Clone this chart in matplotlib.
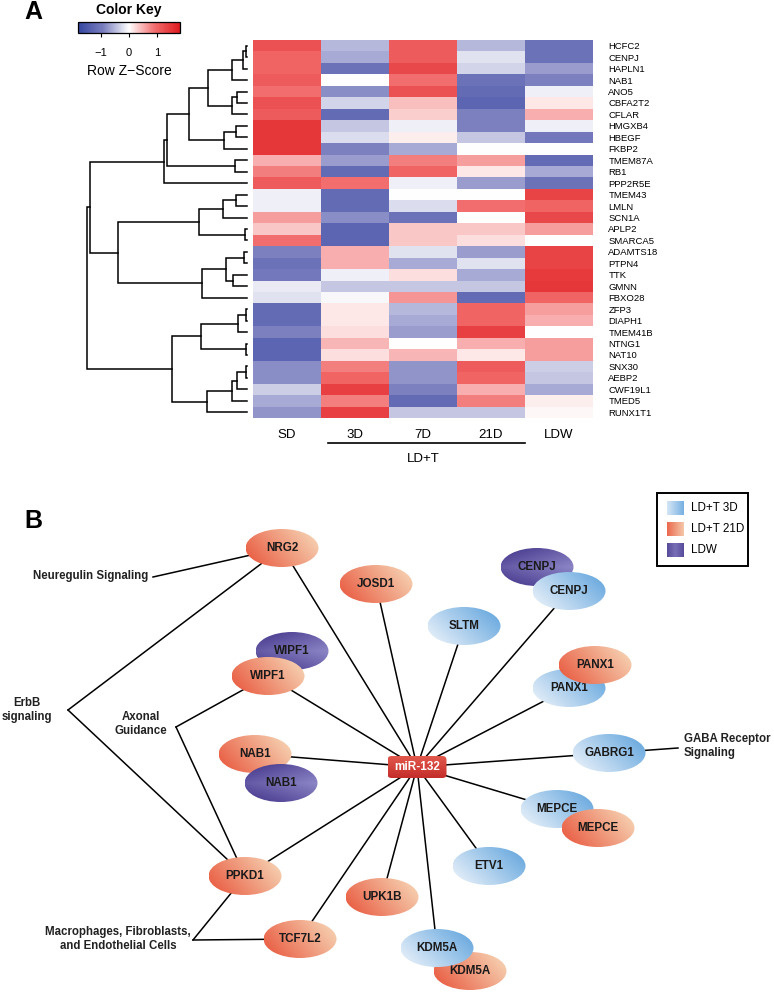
import numpy as np
import matplotlib
matplotlib.use('Agg')
import matplotlib.pyplot as plt
from matplotlib.colors import LinearSegmentedColormap, Normalize, to_rgb
from matplotlib.patches import Ellipse, FancyBboxPatch, Rectangle
from matplotlib.cm import ScalarMappable

plt.rcParams['font.family'] = ['Liberation Sans', 'DejaVu Sans']

# ---- panel A data: row z-scores per condition ----
genes = ['HCFC2', 'CENPJ', 'HAPLN1', 'NAB1', 'ANO5', 'CBFA2T2', 'CFLAR', 'HMGXB4',
         'HBEGF', 'FKBP2', 'TMEM87A', 'RB1', 'PPP2R5E', 'TMEM43', 'LMLN', 'SCN1A',
         'APLP2', 'SMARCA5', 'ADAMTS18', 'PTPN4', 'TTK', 'GMNN', 'FBXO28', 'ZFP3',
         'DIAPH1', 'TMEM41B', 'NTNG1', 'NAT10', 'SNX30', 'AEBP2', 'CWF19L1', 'TMED5',
         'RUNX1T1']
conditions = ['SD', '3D', '7D', '21D', 'LDW']
z_sd = [1.2, 1.0, 1.0, 1.1, 0.9, 1.2, 1.1, 1.5, 1.5, 1.5, 0.5, 0.8, 1.1, -0.1, -0.1, 0.6, 0.35,
        0.9, -0.9, -1.1, -1.0, -0.15, -0.2, -1.2, -1.2, -0.9, -1.3, -1.3, -0.8, -0.8, -0.35, -0.6, -0.75]
z_3d = [-0.5, -0.6, -1.1, 0.0, -0.8, -0.3, -1.2, -0.4, -0.25, -0.9, -0.7, -1.2, 0.9, -1.2, -1.2, -0.8, -1.3,
        -1.3, 0.5, 0.5, -0.1, -0.4, -0.05, 0.15, 0.15, 0.2, 0.45, 0.2, 0.8, 1.0, 1.4, 0.8, 1.4]
z_7d = [1.1, 1.1, 1.3, 0.9, 1.2, 0.4, 0.3, -0.1, 0.1, -0.6, 0.8, 1.0, -0.1, 0.0, -0.25, -1.1, 0.35,
        0.35, -0.2, -0.6, 0.2, -0.4, 0.65, -0.5, -0.6, -0.7, 0.0, 0.45, -0.75, -0.75, -0.9, -1.2, -0.4]
z_21d = [-0.5, -0.2, -0.3, -1.1, -1.2, -1.3, -0.9, -0.9, -0.4, 0.0, 0.6, 0.15, -0.7, 0.0, 0.9, 0.0, 0.35,
         0.2, -0.7, -0.2, -0.6, -0.4, -1.2, 1.0, 1.0, 1.4, 0.5, 0.15, 1.1, 1.0, 0.5, 0.8, -0.4]
z_ldw = [-1.1, -1.1, -0.7, -0.9, -0.1, 0.15, 0.5, -0.1, -1.0, 0.0, -1.2, -0.6, -1.1, 1.35, 1.0, 1.3, 0.6,
         0.0, 1.35, 1.35, 1.45, 1.5, 1.0, 0.6, 0.5, 0.0, 0.6, 0.6, -0.35, -0.4, -0.6, 0.1, 0.05]

# row dendrogram: (child a, child b, height); ids >= 33 are earlier merges
merges = [(0, 1, 1.3), (33, 2, 3.7), (34, 3, 15.3), (4, 5, 9.7), (36, 6, 14.7),
          (35, 37, 38.7), (7, 8, 11.3), (39, 9, 23), (38, 40, 58), (10, 11, 12),
          (41, 42, 79.7), (43, 12, 82.7), (13, 14, 11.3), (45, 15, 24.3), (16, 17, 2),
          (46, 47, 48), (18, 19, 3), (20, 21, 13.7), (49, 50, 21.3), (51, 22, 44.7),
          (48, 52, 128.7), (44, 53, 157), (23, 24, 1), (55, 25, 8.7), (26, 27, 1.5),
          (56, 57, 46), (28, 29, 1.3), (59, 30, 9.7), (60, 31, 14.7), (61, 32, 40.3),
          (58, 62, 74.7), (54, 63, 160.3)]

# ---- panel B data: miR-132 target network ----
node_names = ['NRG2', 'JOSD1', 'WIPF1', 'WIPF1', 'NAB1', 'NAB1', 'PPKD1', 'TCF7L2', 'UPK1B',
              'KDM5A', 'KDM5A', 'ETV1', 'MEPCE', 'MEPCE', 'GABRG1', 'PANX1', 'PANX1',
              'SLTM', 'CENPJ', 'CENPJ']
node_groups = ['21D', '21D', 'LDW', '21D', '21D', 'LDW', '21D', '21D', '21D',
               '21D', '3D', '3D', '3D', '21D', '3D', '3D', '21D',
               '3D', 'LDW', '3D']
hub_targets = [0, 1, 3, 4, 6, 7, 8, 10, 11, 12, 14, 15, 17, 19]
pathways = ['Neuregulin Signaling', 'ErbB\nsignaling', 'Axonal\nGuidance',
            'GABA Receptor\nSignaling', 'Macrophages, Fibroblasts,\nand Endothelial Cells']
pathway_nodes = [[0], [0, 6], [3, 6], [14], [6, 7]]
legend_labels = ['LD+T 3D', 'LD+T 21D', 'LDW']
legend_groups = ['3D', '21D', 'LDW']

# layout (pixel positions)
node_xy = [(282, 548), (376, 584), (292, 651), (268, 676), (255, 754), (281, 783),
           (245, 876), (300, 939), (382, 897), (470, 971), (437, 948), (489, 866),
           (557, 809), (598, 828), (609, 753), (569, 688), (595, 665), (464, 626),
           (537, 567), (569, 591)]
hub_xy = (417, 767)
path_text = [(148, 576, 'right'), (27, 710, 'center'), (141, 724, 'center'),
             (684, 746, 'left'), (118, 939, 'center')]
path_vertex = [(153, 577), (68, 710), (176, 727), (678, 748), (193, 940)]

W, H = 774, 992
fig = plt.figure(figsize=(W / 100, H / 100), dpi=100)

canvas = fig.add_axes([0, 0, 1, 1])
canvas.set_xlim(0, W)
canvas.set_ylim(H, 0)
canvas.set_autoscale_on(False)
canvas.axis('off')


def fa(x0, y0, x1, y1):
    return [x0 / W, 1 - y1 / H, (x1 - x0) / W, (y1 - y0) / H]


# ---------------- panel A ----------------
cmap = LinearSegmentedColormap.from_list(
    'rb', [(0.0, '#34459f'), (0.25, '#7b7fbf'), (0.5, '#ffffff'),
           (0.75, '#f26e6e'), (1.0, '#de1a1f')])
norm = Normalize(-1.8, 1.8)
Z = np.column_stack([z_sd, z_3d, z_7d, z_21d, z_ldw])
n = len(genes)

axh = fig.add_axes(fa(253, 40, 593, 418))
axh.pcolormesh(np.arange(6), np.arange(n + 1), Z, cmap=cmap, norm=norm)
axh.set_xlim(0, 5)
axh.set_ylim(n, 0)
for s in axh.spines.values():
    s.set_visible(False)
axh.yaxis.tick_right()
axh.set_yticks(np.arange(n) + 0.5)
axh.set_yticklabels(genes, fontsize=6.8)
axh.set_xticks(np.arange(5) + 0.5)
axh.set_xticklabels(conditions, fontsize=9.5)
axh.tick_params(length=0)
axh.tick_params(axis='y', pad=11)
axh.tick_params(axis='x', pad=8)
axh.plot([1.1, 4.0], [35.2, 35.2], color='black', lw=1.2, clip_on=False)
axh.text(2.5, 36.6, 'LD+T', ha='center', va='center', fontsize=9.5)

axd = fig.add_axes(fa(80, 40, 247, 418))
pos = {i: (i + 0.5, 0.0) for i in range(n)}
for k, (a, b, h) in enumerate(merges):
    ya, ha = pos[a]
    yb, hb = pos[b]
    axd.plot([ha, h, h, hb], [ya, ya, yb, yb], color='black', lw=1.1,
             solid_joinstyle='miter', clip_on=False)
    pos[n + k] = ((ya + yb) / 2, h)
axd.set_xlim(167, 0)
axd.set_ylim(n, 0)
axd.axis('off')

cax = fig.add_axes(fa(78, 22, 180, 33))
cb = fig.colorbar(ScalarMappable(norm=norm, cmap=cmap), cax=cax, orientation='horizontal',
                  ticks=[-1, 0, 1])
cb.outline.set_linewidth(0.9)
cax.tick_params(labelsize=8, length=3, width=0.8, pad=8)
cb.set_label('Row Z\u2212Score', fontsize=10, labelpad=4)
cax.set_title('Color Key', fontsize=10, fontweight='bold', pad=6)

canvas.text(33, 12, 'A', fontsize=18, fontweight='bold', ha='center', va='center')
canvas.text(33, 521, 'B', fontsize=18, fontweight='bold', ha='center', va='center')

# ---------------- panel B ----------------
def grad_img(kind, xn, yn):
    if kind == '3D':
        t = 0.65 * xn + 0.35 * (1 - yn)
        c0, c1 = to_rgb('#f0f5fb'), to_rgb('#5da2dc')
    elif kind == '21D':
        t = 0.7 * xn + 0.3 * (1 - yn)
        c0, c1 = to_rgb('#e8543a'), to_rgb('#f7dcbc')
    else:
        t = 0.55 * xn + 0.45 * (1 - np.abs(2 * yn - 1))
        c0, c1 = to_rgb('#43358a'), to_rgb('#8c86c6')
    t = np.clip(t, 0, 1)
    return np.array(c0) + (np.array(c1) - np.array(c0)) * t[..., None]


def fill_patch(patch, x0, y0, w, h, kind, z, mode='diag'):
    canvas.add_patch(patch)
    xn = np.linspace(0, 1, 80)[None, :] * np.ones((40, 1))
    yn = np.linspace(0, 1, 40)[:, None] * np.ones((1, 80))
    if mode == 'swatch':
        if kind == 'LDW':
            img = grad_img(kind, 0.5 * np.ones_like(xn), 1 - xn)
        else:
            img = grad_img(kind, xn, np.ones_like(yn) * 0.5)
    else:
        img = grad_img(kind, xn, yn)
    im = canvas.imshow(img, extent=(x0, x0 + w, y0 + h, y0), aspect='auto',
                       interpolation='bilinear', zorder=z)
    im.set_clip_path(patch)


# links
for i in hub_targets:
    x, y = node_xy[i]
    canvas.plot([hub_xy[0], x], [hub_xy[1], y], color='black', lw=1.1, zorder=1)
for label, nodes, (tx, ty, ha), (vx, vy) in zip(pathways, pathway_nodes, path_text, path_vertex):
    for i in nodes:
        x, y = node_xy[i]
        canvas.plot([vx, x], [vy, y], color='black', lw=1.1, zorder=1)
    canvas.text(tx, ty, label, ha=ha, va='center', fontsize=8.3, fontweight='bold',
                color='#222222', linespacing=1.25, zorder=5)

ew, eh = 73, 38
for k, (name, grp, (x, y)) in enumerate(zip(node_names, node_groups, node_xy)):
    z = 2 + k * 0.1
    e = Ellipse((x, y), ew, eh, facecolor='none', edgecolor='none', zorder=z)
    fill_patch(e, x - ew / 2, y - eh / 2, ew, eh, grp, z)
    canvas.text(x, y, name, ha='center', va='center', fontsize=8.4, fontweight='bold',
                color='#1a1a1a', zorder=z + 0.05)

# hub
hw, hh = 59, 22
hub = FancyBboxPatch((hub_xy[0] - hw / 2, hub_xy[1] - hh / 2), hw, hh,
                     boxstyle='round,pad=0,rounding_size=4', facecolor='none',
                     edgecolor='none', zorder=6)
canvas.add_patch(hub)
yy = np.linspace(0, 1, 30)[:, None] * np.ones((1, 60))
c0, c1 = np.array(to_rgb('#e2584c')), np.array(to_rgb('#c42d2a'))
him = canvas.imshow(c0 + (c1 - c0) * yy[..., None],
                    extent=(hub_xy[0] - hw / 2, hub_xy[0] + hw / 2, hub_xy[1] + hh / 2, hub_xy[1] - hh / 2),
                    aspect='auto', interpolation='bilinear', zorder=6)
him.set_clip_path(hub)
canvas.text(hub_xy[0], hub_xy[1], 'miR-132', ha='center', va='center', fontsize=8.5,
            fontweight='bold', color='white', zorder=7)

# legend
canvas.add_patch(Rectangle((657, 493), 91, 73, facecolor='white', edgecolor='black',
                           lw=1.4, zorder=8))
for j, (lab, grp) in enumerate(zip(legend_labels, legend_groups)):
    yc = 508 + j * 21
    sw = Rectangle((667, yc - 7.5), 17, 15, facecolor='none', edgecolor='none', zorder=9)
    fill_patch(sw, 667, yc - 7.5, 17, 15, grp, 9, mode='swatch')
    canvas.text(691, yc, lab, ha='left', va='center', fontsize=8.4, zorder=9)

canvas.set_xlim(0, W)
canvas.set_ylim(H, 0)

fig.savefig('out.png', dpi=100)
